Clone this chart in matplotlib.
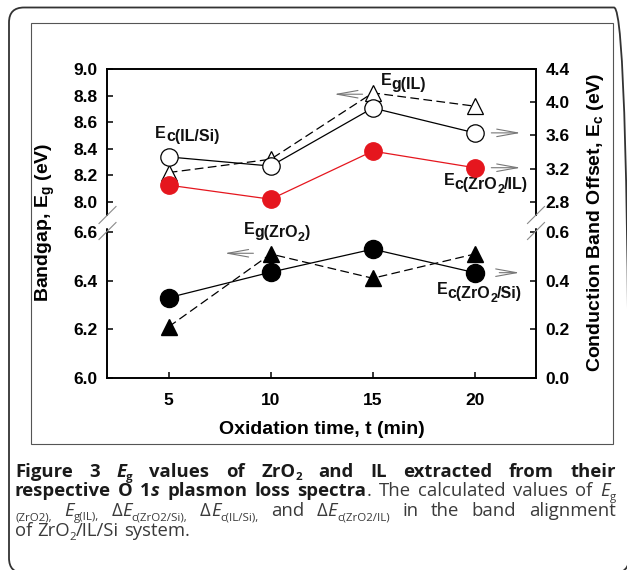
import matplotlib
matplotlib.use("Agg")
import matplotlib.pyplot as plt
import matplotlib.transforms as mtransforms
from matplotlib.font_manager import FontProperties
from matplotlib.patches import FancyBboxPatch, Rectangle
from matplotlib.lines import Line2D
from matplotlib.ticker import FormatStrFormatter

# ---------------- data ----------------
t = [5, 10, 15, 20]
eg_il = [8.22, 8.32, 8.82, 8.72]          # left axis (upper)
ec_il_si = [3.34, 3.23, 3.93, 3.63]       # right axis (upper)
ec_zro2_il = [3.00, 2.83, 3.41, 3.21]     # right axis (upper)
eg_zro2 = [6.21, 6.51, 6.41, 6.51]        # left axis (lower)
ec_zro2_si = [0.33, 0.435, 0.53, 0.433]   # right axis (lower)

x_ticks = [5, 10, 15, 20]
left_up_ticks = [8.0, 8.2, 8.4, 8.6, 8.8, 9.0]
left_lo_ticks = [6.0, 6.2, 6.4, 6.6]
right_up_ticks = [2.8, 3.2, 3.6, 4.0, 4.4]
right_lo_ticks = [0.0, 0.2, 0.4, 0.6]

# ---------------- style ----------------
plt.rcParams["font.family"] = ["Liberation Sans", "DejaVu Sans"]
plt.rcParams["font.weight"] = "bold"
plt.rcParams["mathtext.fontset"] = "custom"
plt.rcParams["mathtext.rm"] = "Liberation Sans:bold"
plt.rcParams["mathtext.it"] = "Liberation Sans:bold"
plt.rcParams["mathtext.bf"] = "Liberation Sans:bold"
plt.rcParams["mathtext.sf"] = "Liberation Sans:bold"

W, H = 627, 570
fig = plt.figure(figsize=(W / 100, H / 100), dpi=100)
renderer = fig.canvas.get_renderer()


def fbox(left, top, right, bottom):
    return [left / W, 1 - bottom / H, (right - left) / W, (bottom - top) / H]


def tw(s, fp):
    a = renderer.get_text_width_height_descent("H" + s + "H", fp, ismath=False)[0]
    b = renderer.get_text_width_height_descent("HH", fp, ismath=False)[0]
    return a - b


# frames
outer = FancyBboxPatch((0.09, -0.03), 6.20, 5.655,
                       boxstyle="round,pad=0,rounding_size=0.15",
                       transform=fig.dpi_scale_trans, fill=False,
                       edgecolor="#333333", lw=1.3)
fig.add_artist(outer)
inner = Rectangle((0.307, (H - 444) / 100), 5.82, 4.21, transform=fig.dpi_scale_trans,
                  fill=False, edgecolor="#555555", lw=0.8)
fig.add_artist(inner)

ax_up = fig.add_axes(fbox(107.5, 69, 536, 215))
ax_lo = fig.add_axes(fbox(107.5, 229.5, 536, 377.7))
ax_up2 = ax_up.twinx()
ax_lo2 = ax_lo.twinx()

for a in (ax_up, ax_lo, ax_up2, ax_lo2):
    a.set_xlim(2, 23)
    for s in a.spines.values():
        s.set_linewidth(1.2)
    a.tick_params(direction="in", length=4, width=1.1, labelsize=12.5, pad=7)

ax_up.set_ylim(7.9, 9.0)
ax_up2.set_ylim(2.64, 4.4)
ax_lo.set_ylim(6.0, 6.611)
ax_lo2.set_ylim(0.0, 0.611)

ax_up.set_yticks(left_up_ticks)
ax_lo.set_yticks(left_lo_ticks)
ax_up2.set_yticks(right_up_ticks)
ax_lo2.set_yticks(right_lo_ticks)
for a in (ax_up, ax_lo, ax_up2, ax_lo2):
    a.yaxis.set_major_formatter(FormatStrFormatter("%.1f"))

ax_up.spines["bottom"].set_visible(False)
ax_up2.spines["bottom"].set_visible(False)
ax_lo.spines["top"].set_visible(False)
ax_lo2.spines["top"].set_visible(False)
ax_up.tick_params(axis="x", bottom=False, top=False, labelbottom=False)
ax_lo.set_xticks(x_ticks)
ax_lo.tick_params(axis="x", top=False, pad=11)
ax_up.tick_params(axis="y", right=False)
ax_lo.tick_params(axis="y", right=False)

# break marks
for xb in (107.5, 536):
    for yb in (215, 231):
        fig.add_artist(Line2D([(xb - 8.5) / 100, (xb + 8.5) / 100],
                              [(H - yb - 8.5) / 100, (H - yb + 8.5) / 100],
                              transform=fig.dpi_scale_trans, color="#8a8a8a", lw=0.8))

red = "#e5161e"
dash = (0, (7, 3.5))
ax_up.plot(t, eg_il, linestyle=dash, color="black", lw=0.9, marker="^", ms=11,
           mfc="white", mec="black", mew=0.9, clip_on=False)
ax_up2.plot(t, ec_il_si, "-", color="black", lw=0.9, marker="o", ms=12.5,
            mfc="white", mec="black", mew=0.9, zorder=3, clip_on=False)
ax_up2.plot(t, ec_zro2_il, "-", color=red, lw=0.9, marker="o", ms=12.5,
            mfc=red, mec=red, zorder=4, clip_on=False)
ax_lo.plot(t, eg_zro2, linestyle=dash, color="black", lw=0.9, marker="^", ms=11,
           mfc="black", mec="black", clip_on=False)
ax_lo2.plot(t, ec_zro2_si, "-", color="black", lw=0.9, marker="o", ms=13,
            mfc="black", mec="black", zorder=3, clip_on=False)

# arrows
aprops = dict(arrowstyle="->,head_length=1.0,head_width=0.18", color="#777777",
              lw=0.8, mutation_scale=15, shrinkA=0, shrinkB=0)
ax_up.annotate("", xy=(13.10, 8.81), xytext=(14.50, 8.81), arrowprops=aprops)
ax_up2.annotate("", xy=(22.25, 3.63), xytext=(20.81, 3.63), arrowprops=aprops)
ax_up2.annotate("", xy=(22.25, 3.21), xytext=(20.81, 3.21), arrowprops=aprops)
ax_lo2.annotate("", xy=(22.20, 0.433), xytext=(21.20, 0.433), arrowprops=aprops)
ax_lo.annotate("", xy=(7.74, 6.513), xytext=(9.15, 6.513), arrowprops=aprops)


def rich_label(ax, x, y, pieces, size):
    off = 0.0
    for txt, scale, dy in pieces:
        fp = FontProperties(family="Liberation Sans", weight="bold", size=size * scale)
        tr = mtransforms.offset_copy(ax.transData, fig=fig, x=off, y=-dy, units="dots")
        ax.text(x, y, txt, transform=tr, fontproperties=fp, ha="left", va="baseline",
                color="#111111", zorder=6)
        off += tw(txt, fp)


LS = 11.5
rich_label(ax_up, 4.34, 8.482, [("E", 1, 0), ("c(IL/Si)", 1, 3.5)], LS)
rich_label(ax_up, 15.40, 8.879, [("E", 1, 0), ("g(IL)", 1, 3.5)], LS)
rich_label(ax_up, 18.48, 8.126, [("E", 1, 0), ("c(ZrO", 1, 3.5), ("2", 0.78, 7.5),
                                 ("/IL)", 1, 3.5)], LS)
rich_label(ax_lo, 8.68, 6.593, [("E", 1, 0), ("g(ZrO", 1, 3.5), ("2", 0.78, 7.5),
                                (")", 1, 3.5)], LS)
rich_label(ax_lo, 18.15, 6.344, [("E", 1, 0), ("c(ZrO", 1, 3.5), ("2", 0.78, 7.5),
                                 ("/Si)", 1, 3.5)], LS)

# axis labels
fig.text(45 / W, 1 - 222.5 / H, r"Bandgap, $E_g$ (eV)", rotation=90, ha="center",
         va="center", fontsize=14, fontweight="bold")
fig.text(595 / W, 1 - 222.5 / H, r"Conduction Band Offset, $E_c$ (eV)", rotation=90,
         ha="center", va="center", fontsize=14, fontweight="bold")
fig.text(321.75 / W, 1 - 430 / H, "Oxidation time, t (min)", ha="center", va="center",
         fontsize=14, fontweight="bold")

# ---------------- caption ----------------
cap_lines = [
    [[("Figure", "B", 0)], [("3", "B", 0)], [("E", "BI", 0), ("g", "B", 1)],
     [("values", "B", 0)], [("of", "B", 0)], [("ZrO", "B", 0), ("2", "B", 1)],
     [("and", "B", 0)], [("IL", "B", 0)], [("extracted", "B", 0)], [("from", "B", 0)],
     [("their", "B", 0)]],
    [[("respective", "B", 0)], [("O", "B", 0)], [("1", "B", 0), ("s", "BI", 0)],
     [("plasmon", "B", 0)], [("loss", "B", 0)], [("spectra", "B", 0), (".", "R", 0)],
     [("The", "R", 0)], [("calculated", "R", 0)], [("values", "R", 0)], [("of", "R", 0)],
     [("E", "I", 0), ("g", "R", 1)]],
    [[("(ZrO2),", "R", 1)], [("E", "I", 0), ("g(IL),", "R", 1)],
     [("\u0394", "R", 0), ("E", "I", 0), ("c(ZrO2/Si),", "R", 1)],
     [("\u0394", "R", 0), ("E", "I", 0), ("c(IL/Si),", "R", 1)], [("and", "R", 0)],
     [("\u0394", "R", 0), ("E", "I", 0), ("c(ZrO2/IL)", "R", 1)], [("in", "R", 0)],
     [("the", "R", 0)], [("band", "R", 0)], [("alignment", "R", 0)]],
    [[("of", "R", 0)], [("ZrO", "R", 0), ("2", "R", 1), ("/IL/Si", "R", 0)],
     [("system.", "R", 0)]],
]
cap_baselines = [476.7, 496.5, 516.5, 536.5]
cap_left, cap_right = 15.0, 615.7
CF = ["Open Sans", "DejaVu Sans"]
SUB = 0.62


def cfp(style, size):
    return FontProperties(family=CF, weight="bold" if "B" in style else "normal",
                          style="italic" if "I" in style else "normal", size=size)


def word_width(word, size):
    return sum(tw(txt, cfp(st, size * (SUB if sub else 1))) for txt, st, sub in word)


# fit font size
cs = 13.3
for i, line in enumerate(cap_lines[:3]):
    nat = sum(word_width(w, 10) for w in line) / 10
    ng = len(line) - 1
    mingap = 0.16 * 100 / 72
    fit = (cap_right - cap_left) / (nat + ng * mingap)
    cs = min(cs, fit)

cs_px = cs * 100 / 72
for i, (line, base) in enumerate(zip(cap_lines, cap_baselines)):
    widths = [word_width(w, cs) for w in line]
    if i < 3:
        gap = (cap_right - cap_left - sum(widths)) / (len(line) - 1)
    else:
        gap = tw(" ", cfp("R", cs))
    x = cap_left
    for w, ww in zip(line, widths):
        for txt, st, sub in w:
            size = cs * (SUB if sub else 1)
            fp = cfp(st, size)
            dy = 0.2 * cs_px if sub else 0
            col = "#1a1a1a" if "B" in st else "#3a3a3a"
            fig.text(x / 100, (H - base - dy) / 100, txt, transform=fig.dpi_scale_trans,
                     fontproperties=fp, color=col, ha="left", va="baseline")
            x += tw(txt, fp)
        x += gap

fig.savefig("out.png", dpi=100)
